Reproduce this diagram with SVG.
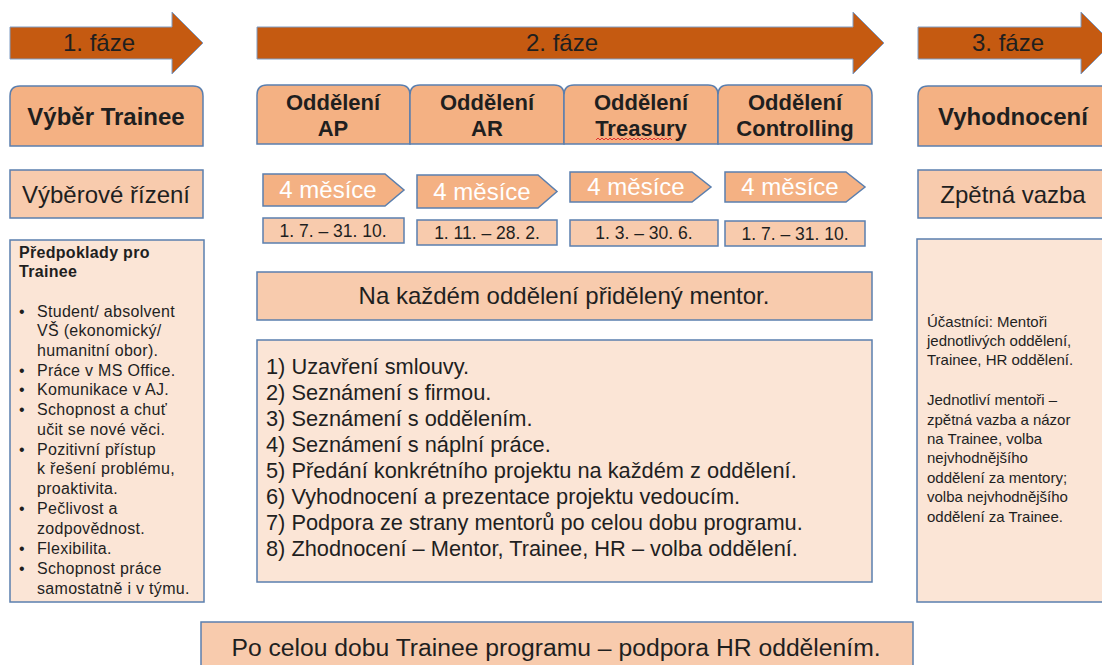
<svg xmlns="http://www.w3.org/2000/svg" width="1102" height="665" viewBox="0 0 1102 665">
<style>
text{font-family:"Liberation Sans",Arial,sans-serif;fill:#1F1F1F}
.arrow{fill:#C55A11;stroke:#7F9CC4;stroke-width:1}
.tab{fill:#F4B183;stroke:#5B7FAE;stroke-width:1.5}
.mid{fill:#F8CBAD;stroke:#5B7FAE;stroke-width:1.5}
.light{fill:#FBE5D6;stroke:#5B7FAE;stroke-width:1.5}
.ph{font-size:24px;text-anchor:middle}
.hb{font-size:24px;font-weight:bold;text-anchor:middle}
.tb{font-size:22px;font-weight:bold;text-anchor:middle}
.c24{font-size:24px;text-anchor:middle}
.big{font-size:24.7px;text-anchor:middle}
.mo{font-size:24px;text-anchor:middle;fill:#FFFFFF}
.dt{font-size:17.5px;text-anchor:middle}
.sm{font-size:15px}
.sl{font-size:16px;letter-spacing:0.3px}
.li{font-size:21.8px}
</style>
<g id="phase1">
<polygon class="arrow" points="10,27 172,27 172,12 203,43 172,74 172,59 10,59"/>
<text class="ph" x="99" y="51">1. fáze</text>
</g>
<g id="phase2">
<polygon class="arrow" points="257,27 853,27 853,12 884,43 853,74 853,59 257,59"/>
<text class="ph" x="562" y="51">2. fáze</text>
</g>
<g id="phase3">
<polygon class="arrow" points="918,27 1081,27 1081,12 1112,43 1081,74 1081,59 918,59"/>
<text class="ph" x="1008" y="51">3. fáze</text>
</g>
<g id="vyber-trainee">
<path class="tab" d="M10,146 V96 Q10,86 20,86 H193 Q203,86 203,96 V146 Z"/>
<text class="hb" x="106" y="125">Výběr Trainee</text>
</g>
<g id="oddeleni-ap">
<path class="tab" d="M257,144 V95 Q257,85 267,85 H400 Q410,85 410,95 V144 Z"/>
<text class="tb" x="333" y="110">Oddělení</text>
<text class="tb" x="333" y="136">AP</text>
</g>
<g id="oddeleni-ar">
<path class="tab" d="M410,144 V95 Q410,85 420,85 H554 Q564,85 564,95 V144 Z"/>
<text class="tb" x="487" y="110">Oddělení</text>
<text class="tb" x="487" y="136">AR</text>
</g>
<g id="oddeleni-treasury">
<path class="tab" d="M564,144 V95 Q564,85 574,85 H708 Q718,85 718,95 V144 Z"/>
<text class="tb" x="641" y="110">Oddělení</text>
<text class="tb" x="641" y="136">Treasury</text>
<path d="M596,140 l2,-2 l2,2 l2,-2 l2,2 l2,-2 l2,2 l2,-2 l2,2 l2,-2 l2,2 l2,-2 l2,2 l2,-2 l2,2 l2,-2 l2,2 l2,-2 l2,2 l2,-2 l2,2 l2,-2 l2,2 l2,-2 l2,2 l2,-2 l2,2 l2,-2 l2,2 l2,-2 l2,2 l2,-2 l2,2 l2,-2 l2,2 l2,-2 l2,2 l2,-2 l2,2" fill="none" stroke="#E03030" stroke-width="1"/>
</g>
<g id="oddeleni-controlling">
<path class="tab" d="M718,144 V95 Q718,85 728,85 H862 Q872,85 872,95 V144 Z"/>
<text class="tb" x="795" y="110">Oddělení</text>
<text class="tb" x="795" y="136">Controlling</text>
</g>
<g id="vyhodnoceni">
<path class="tab" d="M918,146 V96 Q918,86 928,86 H1100 Q1110,86 1110,96 V146 Z"/>
<text class="hb" x="1013" y="125">Vyhodnocení</text>
</g>
<g id="vyberove-rizeni">
<rect class="mid" x="10" y="170" width="193" height="48"/>
<text class="c24" x="106" y="203">Výběrové řízení</text>
</g>
<g id="zpetna-vazba">
<rect class="mid" x="918" y="170" width="200" height="48"/>
<text class="c24" x="1013" y="203">Zpětná vazba</text>
</g>
<g id="mesice-1">
<polygon class="tab" points="263,174 385,174 404,190 385,206 263,206"/>
<text class="mo" x="328" y="198">4 měsíce</text>
</g>
<g id="mesice-2">
<polygon class="tab" points="417,175 538,175 557,191.5 538,208 417,208"/>
<text class="mo" x="482" y="200">4 měsíce</text>
</g>
<g id="mesice-3">
<polygon class="tab" points="570,172 692,172 711,187 692,202 570,202"/>
<text class="mo" x="636" y="195">4 měsíce</text>
</g>
<g id="mesice-4">
<polygon class="tab" points="725,172 846,172 865,187 846,202 725,202"/>
<text class="mo" x="790" y="195">4 měsíce</text>
</g>
<g id="datum-1">
<rect class="mid" x="263" y="218" width="141" height="25"/>
<text class="dt" x="333" y="237">1. 7. – 31. 10.</text>
</g>
<g id="datum-2">
<rect class="mid" x="417" y="220" width="140" height="25"/>
<text class="dt" x="487" y="239">1. 11. – 28. 2.</text>
</g>
<g id="datum-3">
<rect class="mid" x="570" y="220" width="148" height="26"/>
<text class="dt" x="644" y="239">1. 3. – 30. 6.</text>
</g>
<g id="datum-4">
<rect class="mid" x="725" y="221" width="140" height="25"/>
<text class="dt" x="795" y="240">1. 7. – 31. 10.</text>
</g>
<g id="mentor">
<rect class="mid" x="257" y="272" width="615" height="48"/>
<text class="c24" x="564" y="304">Na každém oddělení přidělený mentor.</text>
</g>
<g id="kroky">
<rect class="light" x="257" y="340" width="615" height="242"/>
<text class="li" x="266" y="374">1) Uzavření smlouvy.</text>
<text class="li" x="266" y="400">2) Seznámení s firmou.</text>
<text class="li" x="266" y="426">3) Seznámení s oddělením.</text>
<text class="li" x="266" y="452">4) Seznámení s náplní práce.</text>
<text class="li" x="266" y="478">5) Předání konkrétního projektu na každém z oddělení.</text>
<text class="li" x="266" y="504">6) Vyhodnocení a prezentace projektu vedoucím.</text>
<text class="li" x="266" y="530">7) Podpora ze strany mentorů po celou dobu programu.</text>
<text class="li" x="266" y="556">8) Zhodnocení – Mentor, Trainee, HR – volba oddělení.</text>
</g>
<g id="predpoklady">
<rect class="light" x="10" y="240" width="194" height="362"/>
<text class="sl" x="19" y="258" font-weight="bold">Předpoklady pro</text>
<text class="sl" x="19" y="277" font-weight="bold">Trainee</text>
<text class="sl" x="19" y="317">•</text><text class="sl" x="37" y="317">Student/ absolvent</text>
<text class="sl" x="37" y="336">VŠ (ekonomický/</text>
<text class="sl" x="37" y="356">humanitní obor).</text>
<text class="sl" x="19" y="376">•</text><text class="sl" x="37" y="376">Práce v MS Office.</text>
<text class="sl" x="19" y="395">•</text><text class="sl" x="37" y="395">Komunikace v AJ.</text>
<text class="sl" x="19" y="415">•</text><text class="sl" x="37" y="415">Schopnost a chuť</text>
<text class="sl" x="37" y="435">učit se nové věci.</text>
<text class="sl" x="19" y="455">•</text><text class="sl" x="37" y="455">Pozitivní přístup</text>
<text class="sl" x="37" y="474">k řešení problému,</text>
<text class="sl" x="37" y="494">proaktivita.</text>
<text class="sl" x="19" y="514">•</text><text class="sl" x="37" y="514">Pečlivost a</text>
<text class="sl" x="37" y="534">zodpovědnost.</text>
<text class="sl" x="19" y="554">•</text><text class="sl" x="37" y="554">Flexibilita.</text>
<text class="sl" x="19" y="574">•</text><text class="sl" x="37" y="574">Schopnost práce</text>
<text class="sl" x="37" y="594">samostatně i v týmu.</text>
</g>
<g id="ucastnici">
<rect class="light" x="917" y="239" width="200" height="363"/>
<text class="sm" x="927" y="327">Účastníci: Mentoři</text>
<text class="sm" x="927" y="346">jednotlivých oddělení,</text>
<text class="sm" x="927" y="365">Trainee, HR oddělení.</text>
<text class="sm" x="927" y="405">Jednotliví mentoři –</text>
<text class="sm" x="927" y="425">zpětná vazba a názor</text>
<text class="sm" x="927" y="444">na Trainee, volba</text>
<text class="sm" x="927" y="463">nejvhodnějšího</text>
<text class="sm" x="927" y="483">oddělení za mentory;</text>
<text class="sm" x="927" y="502">volba nejvhodnějšího</text>
<text class="sm" x="927" y="522">oddělení za Trainee.</text>
</g>
<g id="hr-podpora">
<rect class="mid" x="201" y="622" width="712" height="60"/>
<text class="big" x="556" y="656">Po celou dobu Trainee programu – podpora HR oddělením.</text>
</g>
<g id="connectors"></g>
</svg>
